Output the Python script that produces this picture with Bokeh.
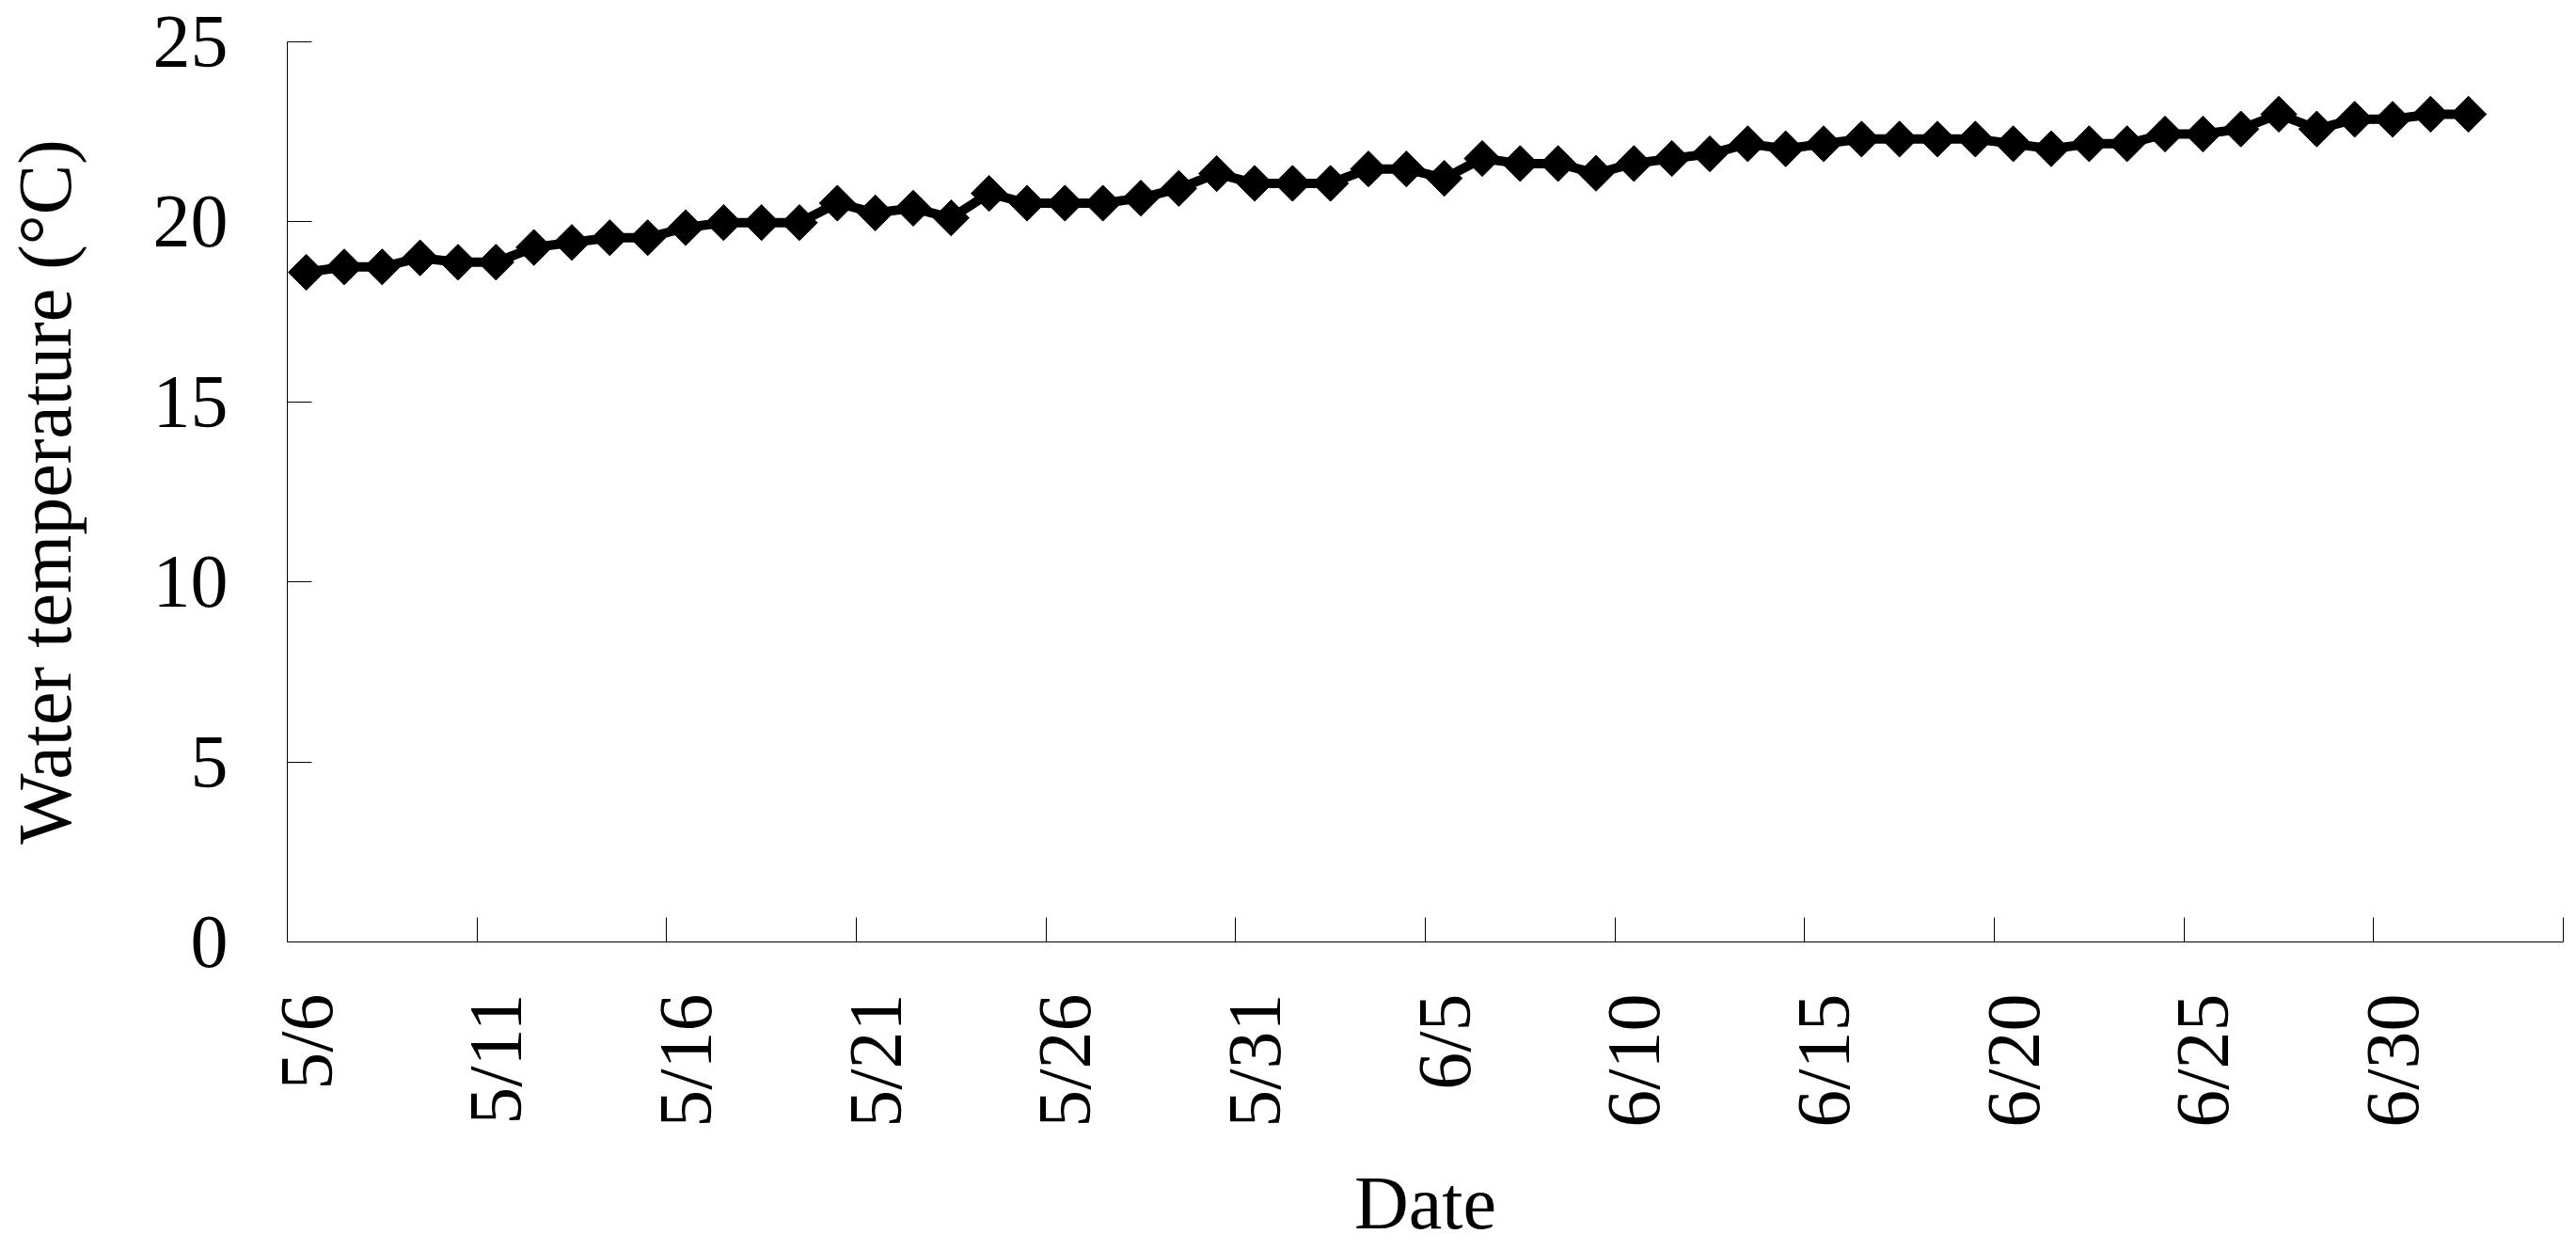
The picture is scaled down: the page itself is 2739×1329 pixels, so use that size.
import numpy as np
from bokeh.plotting import figure
from bokeh.models import FixedTicker, Range1d
from bokeh.embed import file_html
from bokeh.resources import INLINE

# ---- data ----
dates = ["5/6", "5/7", "5/8", "5/9", "5/10", "5/11", "5/12", "5/13", "5/14", "5/15",
         "5/16", "5/17", "5/18", "5/19", "5/20", "5/21", "5/22", "5/23", "5/24", "5/25",
         "5/26", "5/27", "5/28", "5/29", "5/30", "5/31", "6/1", "6/2", "6/3", "6/4",
         "6/5", "6/6", "6/7", "6/8", "6/9", "6/10", "6/11", "6/12", "6/13", "6/14",
         "6/15", "6/16", "6/17", "6/18", "6/19", "6/20", "6/21", "6/22", "6/23", "6/24",
         "6/25", "6/26", "6/27", "6/28", "6/29", "6/30", "7/1", "7/2"]
water_temp = [18.60, 18.75, 18.75, 19.00, 18.88, 18.88, 19.29, 19.43, 19.56, 19.56,
              19.84, 19.98, 19.98, 19.98, 20.52, 20.25, 20.38, 20.11, 20.79, 20.52,
              20.52, 20.52, 20.66, 20.93, 21.34, 21.07, 21.07, 21.07, 21.47, 21.47,
              21.21, 21.76, 21.62, 21.62, 21.35, 21.62, 21.76, 21.89, 22.17, 22.03,
              22.17, 22.30, 22.30, 22.30, 22.30, 22.17, 22.03, 22.17, 22.17, 22.44,
              22.44, 22.58, 22.99, 22.58, 22.85, 22.85, 22.99, 22.99]
n_categories = 60          # axis shows 60 daily categories (5/6 .. 7/4)
label_every = 5
tick_labels = ["5/6", "5/11", "5/16", "5/21", "5/26", "5/31",
               "6/5", "6/10", "6/15", "6/20", "6/25", "6/30"]
y_ticks = [0, 5, 10, 15, 20, 25]

FONT = "Liberation Serif"

x_pos = np.arange(len(water_temp)) + 0.5      # category centres
label_pos = [i * label_every + 0.5 for i in range(len(tick_labels))]
boundary_ticks = list(range(0, n_categories + 1, label_every))

p = figure(width=2737, height=1327, output_backend="svg", toolbar_location=None,
           x_range=Range1d(0, n_categories), y_range=Range1d(0, 25),
           min_border_left=304, min_border_right=12, min_border_top=44, min_border_bottom=326)
p.outline_line_color = None
p.xgrid.visible = False
p.ygrid.visible = False
p.background_fill_color = "white"
p.border_fill_color = "white"

p.line(x_pos, water_temp, line_color="black", line_width=10)
p.scatter(x_pos, water_temp, marker="square", angle=np.pi / 4, size=27,
          fill_color="black", line_color="black", line_width=1)

# x axis: labels at category centres, tick marks at category boundaries
xa = p.xaxis[0]
xa.ticker = FixedTicker(ticks=label_pos, minor_ticks=boundary_ticks)
xa.major_label_overrides = {lp: lab for lp, lab in zip(label_pos, tick_labels)}
xa.major_tick_in = 0
xa.major_tick_out = 0
xa.minor_tick_in = 26
xa.minor_tick_out = 0
xa.minor_tick_line_color = "black"
xa.minor_tick_line_width = 1
xa.axis_line_color = "black"
xa.axis_line_width = 1
xa.major_label_orientation = np.pi / 2
xa.major_label_text_font = FONT
xa.major_label_text_font_size = "80px"
xa.major_label_text_color = "black"
xa.major_label_standoff = 55
xa.axis_label = "Date"
xa.axis_label_text_font = FONT
xa.axis_label_text_font_size = "80px"
xa.axis_label_text_font_style = "normal"
xa.axis_label_text_color = "black"
xa.axis_label_standoff = 33

ya = p.yaxis[0]
ya.ticker = FixedTicker(ticks=y_ticks)
ya.minor_tick_line_color = None
ya.major_tick_in = 26
ya.major_tick_out = 0
ya.major_tick_line_color = "black"
ya.major_tick_line_width = 1
ya.axis_line_color = "black"
ya.axis_line_width = 1
ya.major_label_text_font = FONT
ya.major_label_text_font_size = "80px"
ya.major_label_text_color = "black"
ya.major_label_standoff = 63
ya.axis_label = "Water temperature (°C)"
ya.axis_label_text_font = FONT
ya.axis_label_text_font_size = "80px"
ya.axis_label_text_font_style = "normal"
ya.axis_label_text_color = "black"
ya.axis_label_standoff = 68

open("out.html", "w").write(file_html(p, INLINE))
